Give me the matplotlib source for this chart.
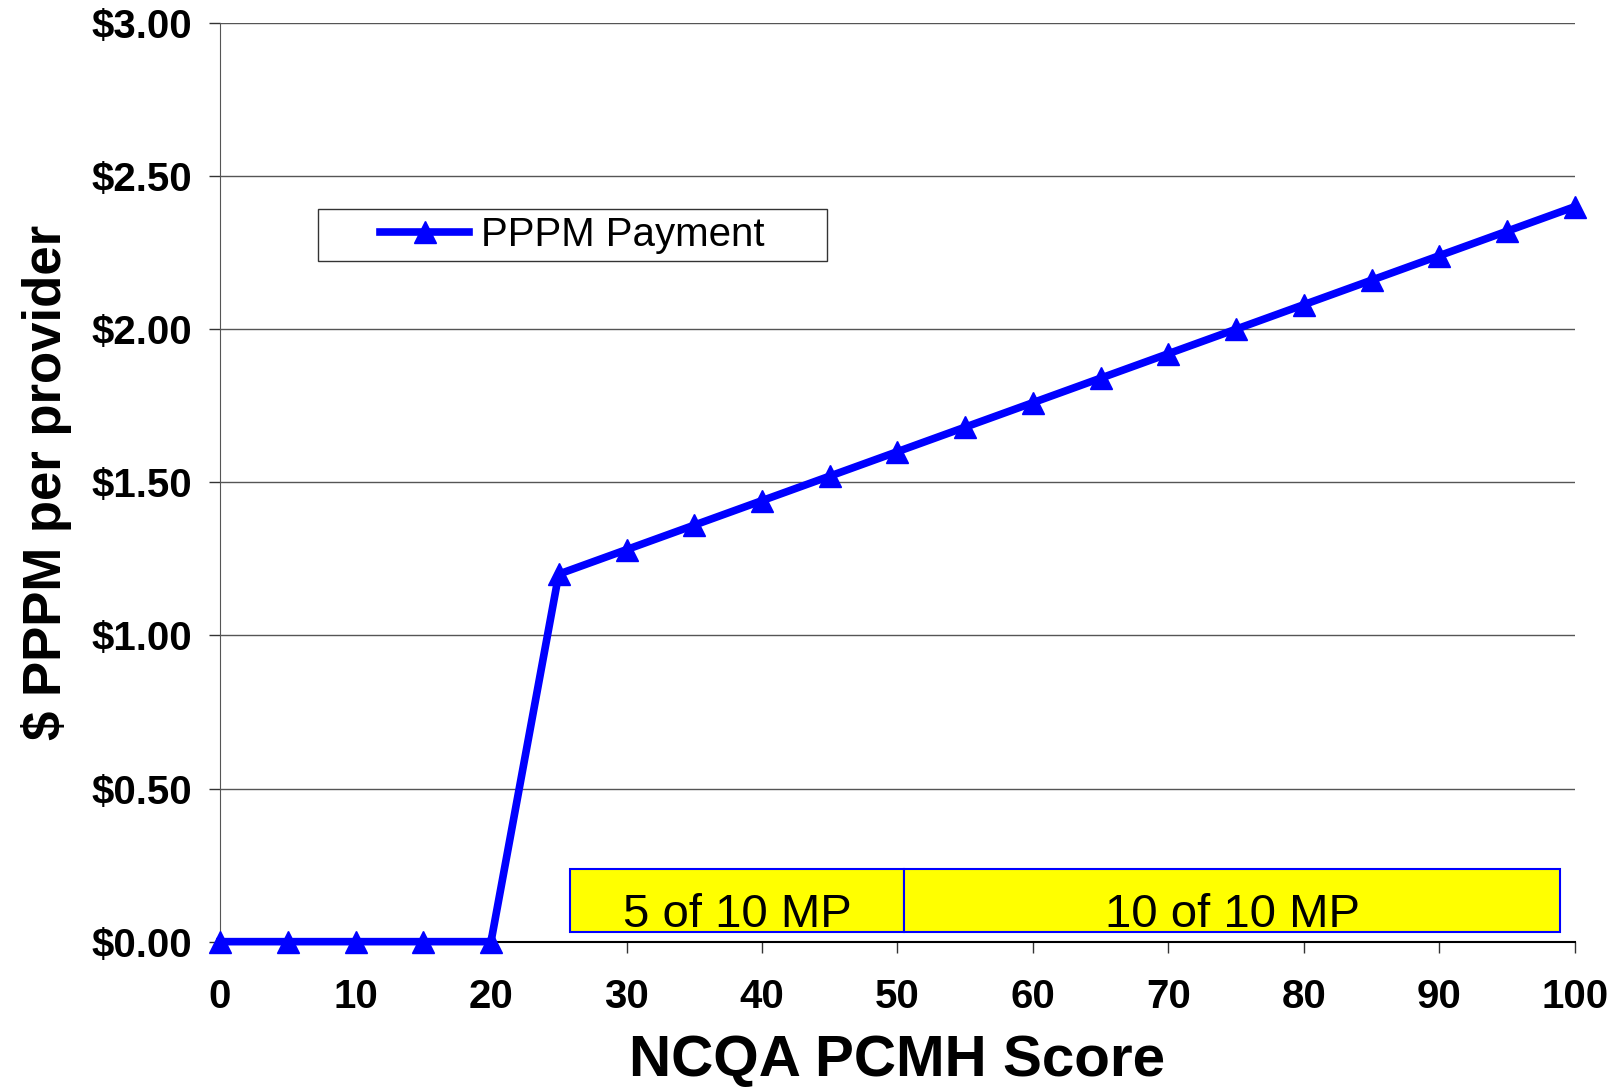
import matplotlib.pyplot as plt
from matplotlib.patches import Rectangle

# NCQA PCMH score vs PPPM payment
scores = [0, 5, 10, 15, 20, 25, 30, 35, 40, 45, 50, 55, 60, 65, 70, 75, 80, 85, 90, 95, 100]
payment = [0, 0, 0, 0, 0, 1.20, 1.28, 1.36, 1.44, 1.52, 1.60, 1.68, 1.76, 1.84, 1.92,
           2.00, 2.08, 2.16, 2.24, 2.32, 2.40]

# yellow bands along the bottom
band_edges = [25.8, 50.5, 98.9]
band_labels = ["5 of 10 MP", "10 of 10 MP"]
band_y = [0.030, 0.236]

plt.rcParams['font.family'] = ['Liberation Sans', 'DejaVu Sans']

fig = plt.figure(figsize=(16.19, 10.89), dpi=100)
ax = fig.add_axes([0.1359, 0.1353, 0.9728 - 0.1359, 0.979 - 0.1353])

ax.plot(scores, payment, color='#0000FF', lw=5.5, marker='^', markersize=16,
        clip_on=False, zorder=5, label='PPPM Payment')

for i, lab in enumerate(band_labels):
    x0, x1 = band_edges[i], band_edges[i + 1]
    ax.add_patch(Rectangle((x0, band_y[0]), x1 - x0, band_y[1] - band_y[0],
                           facecolor='#FFFF00', edgecolor='#0000FF', lw=1.5, zorder=3))
    ax.text((x0 + x1) / 2, 0.047, lab, ha='center', va='baseline', fontsize=34, zorder=4)

ax.set_xlim(0, 100)
ax.set_ylim(0, 3)
ax.set_xticks(range(0, 101, 10))
ax.set_yticks([0, 0.5, 1, 1.5, 2, 2.5, 3])
ax.set_yticklabels([f"${v:.2f}" for v in [0, 0.5, 1, 1.5, 2, 2.5, 3]])
for lbl in ax.get_xticklabels() + ax.get_yticklabels():
    lbl.set_fontweight('bold')
ax.tick_params(axis='both', labelsize=29, length=8, width=1, direction='out', color='#333333')
ax.tick_params(axis='x', pad=18)
ax.tick_params(axis='y', pad=12)

ax.grid(axis='y', color='#555555', lw=1)
ax.set_axisbelow(True)
ax.spines['top'].set_visible(False)
ax.spines['right'].set_visible(False)
ax.spines['left'].set_color('#555555')
ax.spines['bottom'].set_color('black')
ax.spines['bottom'].set_linewidth(1.5)

ax.set_xlabel('NCQA PCMH Score', fontsize=42, fontweight='bold', labelpad=13)
ax.set_ylabel('$ PPPM per provider', fontsize=38, fontweight='bold', labelpad=14)

# legend frame drawn as a plain box
fig.patches.append(Rectangle((318 / 1619, 1 - 261 / 1089), (827 - 318) / 1619, (261 - 208.6) / 1089,
                             transform=fig.transFigure, facecolor='white', edgecolor='#333333', lw=1))
fig.legend(loc='center', bbox_to_anchor=(0.3536, 0.7844), frameon=False, fontsize=29,
           handlelength=2.2, handletextpad=0.3)

fig.savefig('out.png', dpi=100)
